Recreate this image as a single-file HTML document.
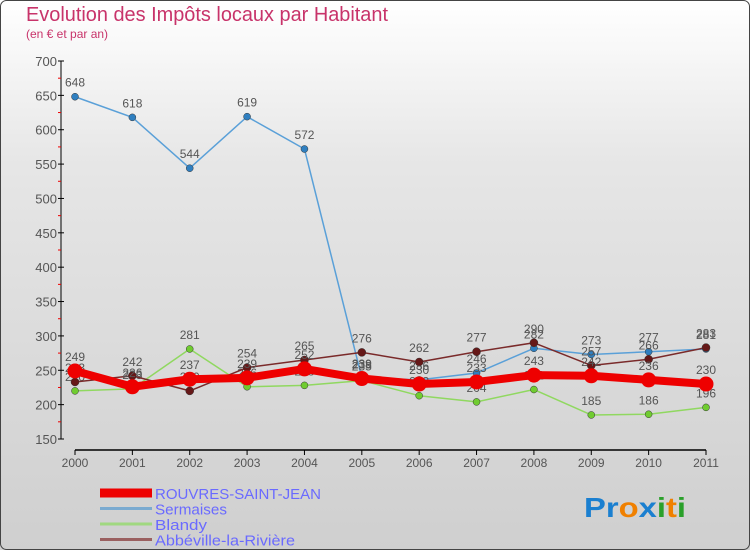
<!DOCTYPE html>
<html><head><meta charset="utf-8"><style>
body{margin:0;}
#wrap{width:750px;height:550px;position:relative;overflow:hidden;background:linear-gradient(#fff 0%,#e6e6e6 30%,#cfcfcf 100%);font-family:"Liberation Sans",sans-serif;}
</style></head><body>
<div id="wrap">
<svg id="chart" width="750" height="550">
<rect x="0.5" y="0.5" width="749" height="549" rx="6" fill="none" stroke="#444"/>
<text x="26" y="21" font-size="20" fill="#c8336a" textLength="362" lengthAdjust="spacingAndGlyphs">Evolution des Impôts locaux par Habitant</text>
<text x="26" y="38" font-size="12" fill="#c8336a">(en € et par an)</text>
<g id="axes"></g>
<g id="series"></g>
<g id="legend"></g>
<text x="584" y="517" font-size="28" font-weight="bold" textLength="102" lengthAdjust="spacingAndGlyphs"><tspan fill="#1a7fd0">Pr</tspan><tspan fill="#f08000">o</tspan><tspan fill="#1a7fd0">x</tspan><tspan fill="#2aa02a">i</tspan><tspan fill="#f08000">t</tspan><tspan fill="#2aa02a">i</tspan></text>
</svg>
</div>
<script>
const years=[2000,2001,2002,2003,2004,2005,2006,2007,2008,2009,2010,2011];
const yTicks=[150,200,250,300,350,400,450,500,550,600,650,700];
const rouvres=[249,226,237,239,252,238,230,233,243,242,236,230];
const sermaises=[648,618,544,619,572,239,236,246,282,273,277,281];
const blandy=[220,223,281,226,228,235,213,204,222,185,186,196];
const abbeville=[233,242,220,254,265,276,262,277,290,257,266,283];
const NS="http://www.w3.org/2000/svg";
function xS(i){return 75+i*(631/11);}
function yS(v){return 439-(v-150)*(378/550);}
function mk(t,a,p){const e=document.createElementNS(NS,t);for(const k in a)e.setAttribute(k,a[k]);p.appendChild(e);return e;}
const ax=document.getElementById('axes');
let l=mk('line',{x1:61,y1:61,x2:61,y2:439,stroke:'#000'},ax);


l=mk('line',{x1:75,y1:450,x2:706,y2:450,stroke:'#000','stroke-width':1.5},ax);


yTicks.forEach((v,i)=>{
 mk('line',{x1:58,x2:64,y1:yS(v),y2:yS(v),stroke:'#000'},ax);
 if(i<yTicks.length-1) mk('line',{x1:58,x2:61,y1:yS(v+25),y2:yS(v+25),stroke:'#e00'},ax);
 const t=mk('text',{x:57,y:yS(v)+5,'text-anchor':'end','font-size':13,fill:'#555'},ax);t.textContent=v;
 
 
});
years.forEach((y,i)=>{
 mk('line',{x1:xS(i),x2:xS(i),y1:450,y2:455,stroke:'#000'},ax);
 const t=mk('text',{x:xS(i),y:467,'text-anchor':'middle','font-size':12,fill:'#555'},ax);t.textContent=y;
 
 
});
const sg=document.getElementById('series');
const defs=[
 {d:sermaises,c:'#5aa0d8',pc:'#2f7fc0',w:1.5,r:3.5,n:'sermaises'},
 {d:blandy,c:'#90d860',pc:'#70cc30',w:1.5,r:3.5,n:'blandy'},
 {d:abbeville,c:'#7a2a2a',pc:'#661818',w:1.5,r:4,n:'abbeville'},
 {d:rouvres,c:'#ee0000',pc:'#ee0000',w:8,r:7.5,n:'rouvres'}
];
defs.forEach(s=>{
 const g=mk('g',{},sg);
 
 
 const p=mk('polyline',{points:s.d.map((v,i)=>xS(i)+','+yS(v)).join(' '),fill:'none',stroke:s.c,'stroke-width':s.w,'stroke-linejoin':'round'},g);
 
 
 s.d.forEach((v,i)=>{
  const c=mk('circle',{cx:xS(i),cy:yS(v),r:s.r,fill:s.pc,stroke:s.n=='rouvres'?'none':'#333','stroke-width':0.5},g);
  
  
  const t=mk('text',{x:xS(i),y:yS(v)-10,'text-anchor':'middle','font-size':12,fill:'#555'},g);t.textContent=v;
  
  
 });
});
const lg=document.getElementById('legend');
const items=[['ROUVRES-SAINT-JEAN','#ee0000',9,166],['Sermaises','#7aaad0',3,72],['Blandy','#a0d880',3,52],['Abbéville-la-Rivière','#9a6060',3,140]];
items.forEach((it,i)=>{
 const y=493+i*15.5;
 const ln=mk('line',{x1:100,x2:152,y1:y,y2:y,stroke:it[1],'stroke-width':it[2]},lg);
 
 
 const t=mk('text',{x:155,y:y+6,'font-size':15,fill:'#6a6aff',textLength:it[3],lengthAdjust:'spacingAndGlyphs'},lg);t.textContent=it[0];
 
 
});
</script>
</body></html>
